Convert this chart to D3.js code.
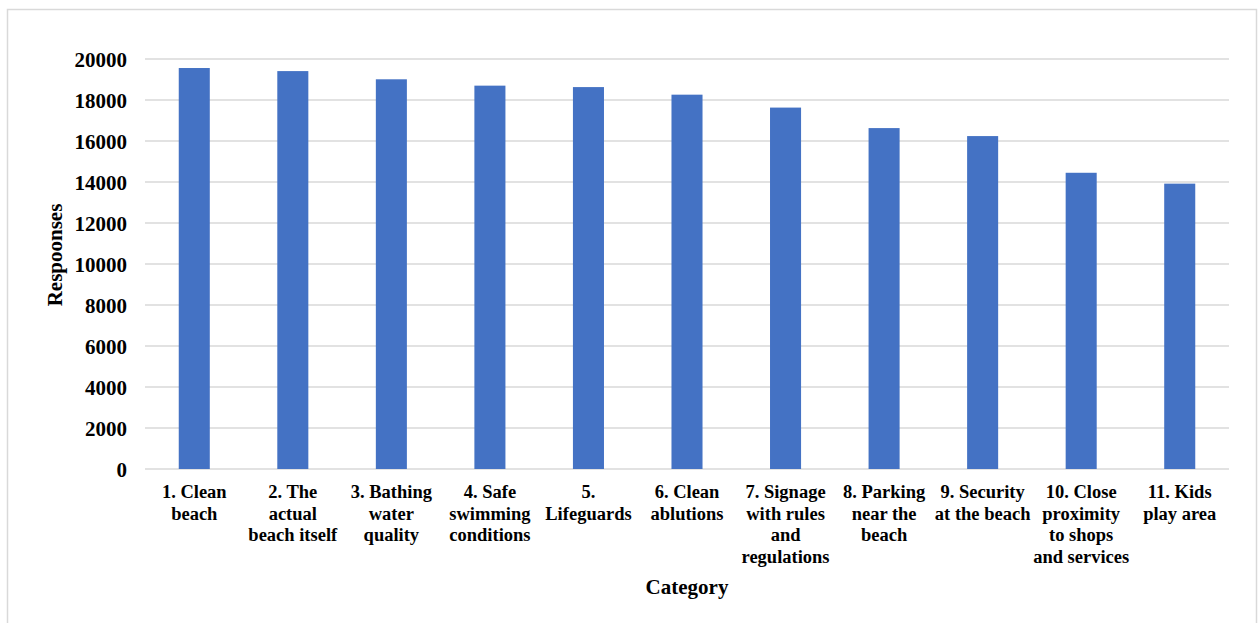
<!DOCTYPE html>
<html>
<head>
<meta charset="utf-8">
<script src="https://cdn.jsdelivr.net/npm/d3@7"></script>
<style>
  html, body { margin: 0; padding: 0; background: #fff; }
  svg { display: block; }
  text { font-family: "Liberation Serif", "Times New Roman", serif; font-weight: bold; fill: #000; }
</style>
</head>
<body>
<svg id="chart" width="1258" height="623"></svg>
<script>
// Beach attribute rankings: number of responses per category
const categories = [
  ["1. Clean", "beach"],
  ["2. The", "actual", "beach itself"],
  ["3. Bathing", "water", "quality"],
  ["4. Safe", "swimming", "conditions"],
  ["5.", "Lifeguards"],
  ["6. Clean", "ablutions"],
  ["7. Signage", "with rules", "and", "regulations"],
  ["8. Parking", "near the", "beach"],
  ["9. Security", "at the beach"],
  ["10. Close", "proximity", "to shops", "and services"],
  ["11. Kids", "play area"]
];
const responses = [19560, 19410, 19010, 18700, 18630, 18260, 17630, 16630, 16240, 14450, 13920];
const yTicks = [0, 2000, 4000, 6000, 8000, 10000, 12000, 14000, 16000, 18000, 20000];

const svg = d3.select("#chart");
const margin = { left: 145, right: 29, top: 59, bottom: 154 };
const W = 1258, H = 623;
const plotW = W - margin.left - margin.right;
const plotH = H - margin.top - margin.bottom;

// outer chart frame
svg.append("rect")
  .attr("x", 7.5).attr("y", 9.5)
  .attr("width", 1249).attr("height", 640)
  .attr("fill", "none").attr("stroke", "#d9d9d9").attr("stroke-width", 1.5);

const g = svg.append("g").attr("transform", `translate(${margin.left},${margin.top})`);

const x = d3.scaleBand()
  .domain(d3.range(categories.length))
  .range([0, plotW])
  .paddingInner(0.685)
  .paddingOuter(0.3425);

const y = d3.scaleLinear().domain([0, 20000]).range([plotH, 0]);

// horizontal gridlines
g.append("g")
  .selectAll("line")
  .data(yTicks)
  .join("line")
  .attr("x1", 0).attr("x2", plotW)
  .attr("y1", d => y(d)).attr("y2", d => y(d))
  .attr("stroke", "#d9d9d9").attr("stroke-width", 1.5);

// y tick labels
const yAxis = g.append("g")
  .call(d3.axisLeft(y).tickValues(yTicks).tickSize(0).tickPadding(18).tickFormat(d3.format("d")));
yAxis.select(".domain").remove();
yAxis.selectAll("text")
  .style("font-size", "21px")
  .attr("dy", "0.34em");

// bars
g.append("g")
  .selectAll("rect")
  .data(responses)
  .join("rect")
  .attr("x", (d, i) => x(i))
  .attr("y", d => y(d))
  .attr("width", x.bandwidth())
  .attr("height", d => plotH - y(d))
  .attr("fill", "#4472c4");

// category labels (wrapped)
const lab = g.append("g")
  .selectAll("text")
  .data(categories)
  .join("text")
  .attr("x", (d, i) => x(i) + x.bandwidth() / 2)
  .attr("y", plotH + 29)
  .attr("text-anchor", "middle")
  .style("font-size", "18.5px");
lab.selectAll("tspan")
  .data(d => d)
  .join("tspan")
  .attr("x", function () { return d3.select(this.parentNode).attr("x"); })
  .attr("dy", (d, i) => i === 0 ? 0 : 21.5)
  .text(d => d);

// axis titles
svg.append("text")
  .attr("x", margin.left + plotW / 2)
  .attr("y", 594)
  .attr("text-anchor", "middle")
  .style("font-size", "21px")
  .text("Category");

svg.append("text")
  .attr("transform", "translate(62,255) rotate(-90)")
  .attr("text-anchor", "middle")
  .style("font-size", "21px")
  .text("Respoonses");
</script>
</body>
</html>
